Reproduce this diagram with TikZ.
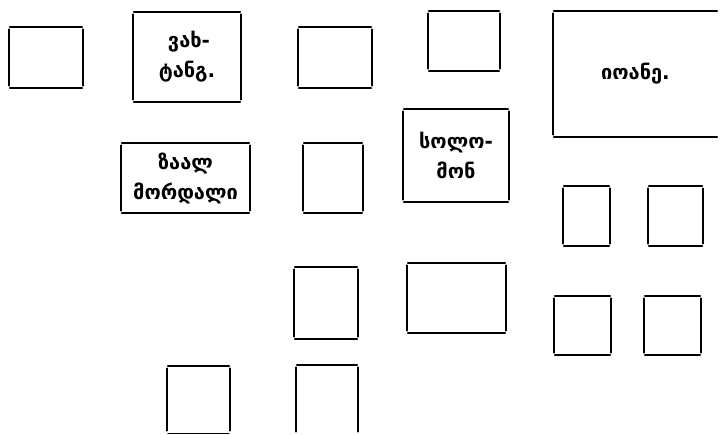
\documentclass[tikz,border=0pt]{standalone}
\usepackage{fontspec}
\newfontfamily\geofont{DejaVu Sans}
\tikzset{
  room/.style={rectangle, inner sep=0pt, align=center, font=\geofont\bfseries\fontsize{20}{30}\selectfont},
  side/.style={line width=1.8pt, line cap=round, black},
  hside/.style={side, shorten <=1pt, shorten >=1pt},
  vside/.style={side, shorten <=2.5pt, shorten >=2.5pt}
}
\newcommand\sideT[1]{\draw[hside] (#1.north west) -- (#1.north east);}
\newcommand\sideB[1]{\draw[hside] (#1.south west) -- (#1.south east);}
\newcommand\sideL[1]{\draw[vside] (#1.north west) -- (#1.south west);}
\newcommand\sideR[1]{\draw[vside] (#1.north east) -- (#1.south east);}
\newcommand\sideAll[1]{\sideT{#1}\sideB{#1}\sideL{#1}\sideR{#1}}
\begin{document}
\begin{tikzpicture}[x=1pt,y=-1pt]
\useasboundingbox (0,0) rectangle (724,435);
% rooms
\node[room, minimum width=74pt, minimum height=61pt] (r1) at (46,57.5) {};
\node[room, minimum width=108pt, minimum height=90pt] (r2) at (187,57) {\hspace*{4pt}ვახ-\\ტანგ.};
\node[room, minimum width=74pt, minimum height=61pt] (r3) at (335,57.5) {};
\node[room, minimum width=72pt, minimum height=60pt] (r4) at (464,41) {};
\node[room, minimum width=165pt, minimum height=126pt] (r5) at (635.5,74) {იოანე.};
\node[room, minimum width=129pt, minimum height=70pt] (r6) at (185.5,178) {ზაალ\\მორდალი};
\node[room, minimum width=60pt, minimum height=70pt] (r7) at (333,178) {};
\node[room, minimum width=106pt, minimum height=93pt] (r8) at (456,155.5) {სოლო-\\მონ};
\node[room, minimum width=64pt, minimum height=72pt] (r9) at (326,303) {};
\node[room, minimum width=99pt, minimum height=70pt] (r10) at (456.5,298) {};
\node[room, minimum width=47pt, minimum height=60pt] (r11) at (586.5,216) {};
\node[room, minimum width=55pt, minimum height=60pt] (r12) at (675.5,216) {};
\node[room, minimum width=57pt, minimum height=59pt] (r13) at (582.5,325.5) {};
\node[room, minimum width=57pt, minimum height=59pt] (r14) at (672.5,325.5) {};
\node[room, minimum width=63pt, minimum height=67pt] (r15) at (198.5,399.5) {};
\node[room, minimum width=62pt, minimum height=69pt] (r16) at (327,399.5) {};
% walls
\sideAll{r1}
\sideAll{r2}
\sideAll{r3}
\sideAll{r4}
\sideT{r5}\sideB{r5}\sideL{r5}
\sideAll{r6}
\sideAll{r7}
\sideAll{r8}
\sideAll{r9}
\sideAll{r10}
\sideAll{r11}
\sideAll{r12}
\sideAll{r13}
\sideAll{r14}
\sideT{r15}\sideL{r15}\sideR{r15}\draw[hside, line width=0.8pt] (r15.south west) -- (r15.south east);
\sideT{r16}\sideL{r16}\sideR{r16}
\end{tikzpicture}
\end{document}
